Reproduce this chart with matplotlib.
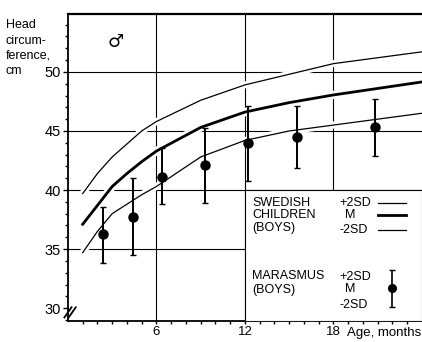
import matplotlib as mpl
import matplotlib.pyplot as plt
import matplotlib.patheffects as pe
import numpy as np

# Swedish reference curves (boys), head circumference in cm by age in months
AGE = [1, 2, 3, 4, 5, 6, 9, 12, 15, 18, 21, 24]
PLUS_2SD = [39.7, 41.4, 42.8, 43.9, 45.0, 45.8, 47.6, 48.9, 49.8, 50.7, 51.2, 51.7]
MEAN = [37.1, 38.7, 40.3, 41.4, 42.4, 43.3, 45.3, 46.6, 47.4, 48.05, 48.6, 49.15]
MINUS_2SD = [34.7, 36.5, 38.0, 38.8, 39.6, 40.3, 42.8, 44.2, 45.0, 45.5, 46.0, 46.5]

# Marasmus boys: mean and +/- 2SD
MAR_AGE = [2.4, 4.4, 6.4, 9.3, 12.2, 15.5, 20.8]
MAR_MEAN = [36.3, 37.7, 41.1, 42.1, 44.0, 44.5, 45.3]
MAR_HI = [38.6, 41.0, 43.55, 45.25, 47.1, 47.1, 47.7]
MAR_LO = [33.8, 34.5, 38.8, 38.9, 40.75, 41.9, 42.9]

X_MAJOR = [6, 12, 18]
Y_MAJOR = [30, 35, 40, 45, 50]

mpl.rcParams.update({
    "font.family": ["Liberation Sans", "DejaVu Sans"],
    "figure.facecolor": "white",
    "axes.facecolor": "white",
})

fig = plt.figure(figsize=(4.22, 3.42), dpi=100)
ax = fig.add_axes([0.161, 0.061, 0.839, 0.898])
ax.set_xlim(0, 24)
ax.set_ylim(28.9, 54.9)

# grid
for y in [35, 40, 45, 50]:
    ax.axhline(y, color="black", lw=0.8, zorder=1)
for x in X_MAJOR:
    ax.axvline(x, color="black", lw=0.8, zorder=1)

halo = [pe.Stroke(linewidth=5, foreground="white"), pe.Normal()]
ax.plot(AGE, PLUS_2SD, color="black", lw=0.9, zorder=2, path_effects=halo)
ax.plot(AGE, MINUS_2SD, color="black", lw=0.9, zorder=2, path_effects=halo)
ax.plot(AGE, MEAN, color="black", lw=2.0,
        zorder=2, path_effects=[pe.Stroke(linewidth=6, foreground="white"), pe.Normal()])

mean = np.array(MAR_MEAN)
err = [mean - np.array(MAR_LO), np.array(MAR_HI) - mean]
ax.errorbar(MAR_AGE, mean, yerr=err, fmt="o", color="black", ms=6.5,
            elinewidth=1.4, capsize=2.5, capthick=1.0, zorder=3)

# legend box in the lower right
ax.add_patch(mpl.patches.Rectangle((12, 28.9), 12, 11.1, facecolor="white",
                                   edgecolor="black", lw=0.8, zorder=4))
fs = 9
for txt, y in [("SWEDISH", 38.9), ("CHILDREN", 37.85), ("(BOYS)", 36.8)]:
    ax.text(12.5, y, txt, fontsize=fs, va="center", zorder=5)
for txt, y, dx in [("+2SD", 38.9, 0), ("M", 37.85, 0.4), ("-2SD", 36.65, 0)]:
    ax.text(18.4 + dx, y, txt, fontsize=fs, va="center", zorder=5)
for y, lw in [(38.9, 0.9), (37.85, 2.0), (36.65, 0.9)]:
    ax.plot([21.0, 22.9], [y, y], color="black", lw=lw, zorder=5)

for txt, y in [("MARASMUS", 32.7), ("(BOYS)", 31.5)]:
    ax.text(12.5, y, txt, fontsize=fs, va="center", zorder=5)
for txt, y, dx in [("+2SD", 32.6, 0), ("M", 31.6, 0.4), ("-2SD", 30.3, 0)]:
    ax.text(18.4 + dx, y, txt, fontsize=fs, va="center", zorder=5)
ax.errorbar([22.0], [31.7], yerr=[[1.6], [1.5]], fmt="o", color="black", ms=5.5,
            elinewidth=1.2, capsize=2.5, capthick=1.0, zorder=6)

# axes styling
ax.spines["right"].set_visible(False)
ax.spines["top"].set_linewidth(1.6)
ax.spines["left"].set_linewidth(1.3)
ax.spines["bottom"].set_linewidth(1.3)

ax.set_xticks(X_MAJOR)
ax.set_xticklabels([str(v) for v in X_MAJOR], fontsize=9.5)
ax.set_xticks(range(1, 24), minor=True)
ax.set_yticks(Y_MAJOR)
ax.set_yticklabels([str(v) for v in Y_MAJOR], fontsize=10.5)
ax.set_yticks(range(29, 55), minor=True)
ax.tick_params(axis="both", which="major", direction="out", length=3.5,
               width=1.0, pad=1.5, color="black")
ax.tick_params(axis="both", which="minor", direction="out", length=2.5,
               width=1.0)
ax.tick_params(axis="x", which="major", length=2.5, pad=0.8)

ax.text(18.9, -0.018, "Age, months", fontsize=9.5, va="top", ha="left",
        transform=ax.get_xaxis_transform())

# axis break mark
for dx in (0.0, 0.012):
    ax.plot([-0.01 + dx, 0.01 + dx], [0.012, 0.045], color="black", lw=1.3,
            transform=ax.transAxes, clip_on=False, zorder=6)

ax.text(3.2, 52.5, "\u2642", fontsize=13, fontweight="bold", ha="center",
        va="center", family=["DejaVu Sans"])

for txt, py in [("Head", 25), ("circum-", 41), ("ference,", 56), ("cm", 71)]:
    fig.text(6 / 422, 1 - py / 342, txt, fontsize=9, va="center", ha="left")

fig.savefig("out.png", dpi=100)
